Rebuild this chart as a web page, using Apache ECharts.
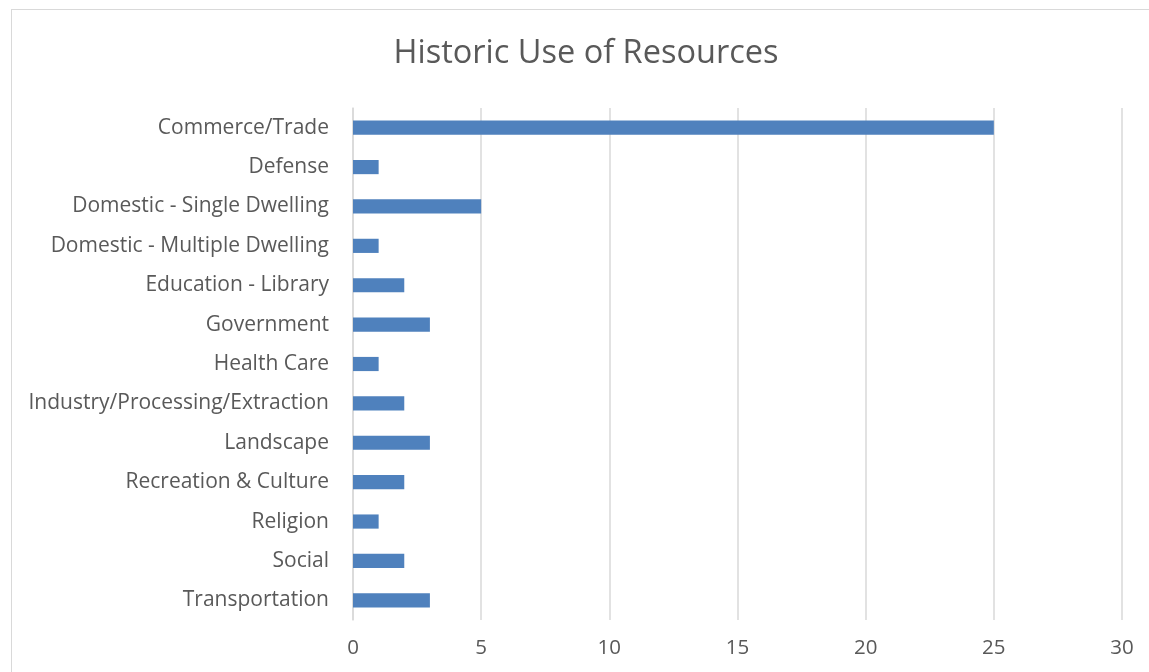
<!DOCTYPE html>
<html><head><meta charset="utf-8">
<script src="https://cdn.jsdelivr.net/npm/echarts@6/dist/echarts.min.js"></script>
<style>html,body{margin:0;padding:0;background:#fff}#c{width:1149px;height:672px}
#b{position:absolute;left:11px;top:9px;width:1160px;height:700px;border:1.5px solid #d9d9d9;box-sizing:border-box;pointer-events:none}</style>
</head><body><div id="c"></div><div id="b"></div>
<script>
const categories = ["Commerce/Trade","Defense","Domestic - Single Dwelling","Domestic - Multiple Dwelling","Education - Library","Government","Health Care","Industry/Processing/Extraction","Landscape","Recreation & Culture","Religion","Social","Transportation"];
const values = [25,1,5,1,2,3,1,2,3,2,1,2,3];
const xTicks = [0,5,10,15,20,25,30];
const chart = echarts.init(document.getElementById('c'));
const font = "'Open Sans', sans-serif";
chart.setOption({
  animation:false,
  title:{text:"Historic Use of Resources",left:581,textAlign:'center',top:32,textStyle:{fontFamily:font,fontSize:32.5,fontWeight:'normal',color:'#595959'}},
  grid:{left:353,right:27,top:108,bottom:52},
  xAxis:{type:'value',min:0,max:30,interval:5,
    axisLine:{show:false},axisTick:{show:false},
    splitLine:{lineStyle:{color:'#d9d9d9',width:1.5}},
    axisLabel:{fontFamily:font,fontSize:20.5,color:'#595959',margin:18}},
  yAxis:{type:'category',data:categories,inverse:true,
    axisLine:{show:true,lineStyle:{color:'#d9d9d9',width:1.5}},axisTick:{show:false},
    axisLabel:{fontFamily:font,fontSize:21,color:'#595959',margin:24}},
  series:[{type:'bar',data:values,barCategoryGap:'64%',itemStyle:{color:'#4f81bd'}}]
});
</script></body></html>
